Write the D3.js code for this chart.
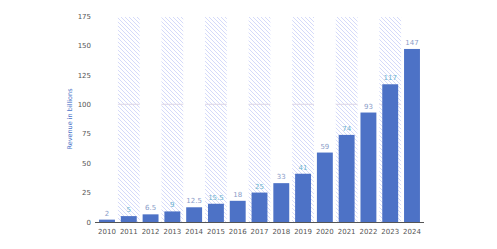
<!DOCTYPE html>
<html><head><meta charset="utf-8">
<script src="https://cdn.jsdelivr.net/npm/d3@7"></script>
<style>html,body{margin:0;padding:0;background:#fff;}svg{display:block;font-family:"DejaVu Sans",sans-serif;}</style>
</head><body>
<svg id="c" width="497" height="249"></svg>
<script>
const years = ["2010","2011","2012","2013","2014","2015","2016","2017","2018","2019","2020","2021","2022","2023","2024"];
const values = [2, 5, 6.5, 9, 12.5, 15.5, 18, 25, 33, 41, 59, 74, 93, 117, 147];
const valueLabels = ["2","5","6.5","9","12.5","15.5","18","25","33","41","59","74","93","117","147"];
const yTicks = [0, 25, 50, 75, 100, 125, 150, 175];
const yTitle = "Revenue in billions";

const svg = d3.select("#c");
const x = d3.scaleBand().domain(years).range([96, 423]).paddingInner(0.27).paddingOuter(0.14);
const y = d3.scaleLinear().domain([0, 175]).range([222, 16]);
const step = x.step();

const defs = svg.append("defs");
const pat = defs.append("pattern").attr("id","hatch").attr("patternUnits","userSpaceOnUse")
  .attr("width",4).attr("height",4);
pat.append("path").attr("d","M-1,-1 L5,5 M-1,3 L1,5 M3,-1 L5,1").attr("stroke","#c3caf6").attr("stroke-width",0.7);

// stripes behind alternate bars
const stripes = years.filter((d,i)=> i % 2 === 1);
svg.append("g").selectAll("rect").data(stripes).join("rect")
  .attr("x", d => x(d) - step*x.paddingInner()/2)
  .attr("y", y(175)+1)
  .attr("width", step)
  .attr("height", y(0) - y(175) - 1)
  .attr("fill","url(#hatch)");
svg.append("g").selectAll("line").data(stripes).join("line")
  .attr("x1", d => x(d) - step*x.paddingInner()/2)
  .attr("x2", d => x(d) - step*x.paddingInner()/2 + step)
  .attr("y1", y(100)).attr("y2", y(100))
  .attr("stroke","#ddd6e6").attr("stroke-width",1);

// bars
svg.append("g").selectAll("rect").data(years).join("rect")
  .attr("x", d => x(d))
  .attr("y", (d,i) => y(values[i]))
  .attr("width", x.bandwidth())
  .attr("height", (d,i) => y(0) - y(values[i]))
  .attr("fill","#4d72c6");

// value labels
svg.append("g").selectAll("text").data(years).join("text")
  .attr("x", d => x(d) + x.bandwidth()/2)
  .attr("y", (d,i) => y(values[i]) - 4)
  .attr("text-anchor","middle")
  .attr("font-size","7px")
  .attr("fill", (d,i) => i % 2 === 1 ? "#6cb3cf" : "#8a9cc8")
  .text((d,i) => valueLabels[i]);

// x axis
const xa = svg.append("g").attr("transform",`translate(0,${y(0)})`)
  .call(d3.axisBottom(x).tickSize(0).tickPadding(7));
xa.select(".domain").attr("stroke","#555").attr("stroke-width",1).attr("d",`M95,0.5H424`);
xa.selectAll("text").attr("font-size","7px").attr("fill","#555").attr("font-family","DejaVu Sans, sans-serif");

// y axis
const ya = svg.append("g").attr("transform","translate(91,0)")
  .call(d3.axisLeft(y).tickValues(yTicks).tickSize(0).tickPadding(0));
ya.select(".domain").remove();
ya.selectAll("text").attr("font-size","7px").attr("fill","#555").attr("font-family","DejaVu Sans, sans-serif");

svg.append("text")
  .attr("transform",`translate(72,${(y(0)+y(175))/2}) rotate(-90)`)
  .attr("text-anchor","middle")
  .attr("font-size","6.5px")
  .attr("fill","#4a72c8")
  .text(yTitle);
</script>
</body></html>
